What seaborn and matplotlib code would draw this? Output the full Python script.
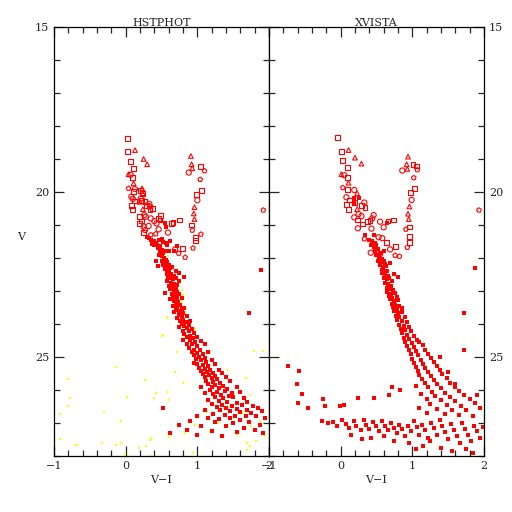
import numpy as np
import pandas as pd
import matplotlib
matplotlib.use("Agg")
import matplotlib.pyplot as plt
import seaborn as sns
from matplotlib.ticker import MultipleLocator

# ---- data: (V-I, V, marker) ----
hst_open = [
    (0.03,18.37,'s'),(0.03,18.78,'s'),(0.07,19.08,'s'),(0.11,19.28,'s'),(0.10,19.57,'s'),(0.11,19.99,'s'),
    (0.21,19.96,'s'),(0.24,20.04,'s'),(0.12,20.27,'s'),(0.22,20.25,'s'),(0.08,20.41,'s'),(0.10,20.52,'s'),
    (0.29,20.42,'s'),(0.37,20.49,'s'),(0.34,20.52,'s'),(0.19,20.75,'s'),(0.19,20.95,'s'),(0.22,20.88,'s'),
    (0.48,20.85,'s'),(0.46,20.80,'s'),(0.49,20.70,'s'),(0.64,20.95,'s'),(0.66,20.92,'s'),(0.75,20.85,'s'),
    (0.25,21.22,'s'),(0.79,21.70,'s'),(1.04,19.23,'s'),(0.99,20.07,'s'),(1.06,19.95,'s'),(0.92,21.00,'s'),
    (0.97,21.37,'s'),(0.97,21.48,'s'),(0.27,20.30,'s'),
    (0.13,18.73,'^'),(0.25,19.00,'^'),(0.30,19.16,'^'),(0.04,19.46,'^'),(0.11,19.74,'^'),(0.23,19.89,'^'),
    (0.24,20.04,'^'),(0.24,20.52,'^'),(0.91,18.91,'^'),(0.92,19.16,'^'),(0.93,19.28,'^'),(0.96,20.46,'^'),
    (0.95,20.65,'^'),(0.96,20.82,'^'),(0.20,20.30,'^'),
    (0.07,19.48,'o'),(0.13,19.91,'o'),(0.08,20.14,'o'),(0.10,20.21,'o'),(0.21,20.20,'o'),(0.33,20.36,'o'),
    (0.34,20.44,'o'),(0.26,20.70,'o'),(0.28,20.75,'o'),(0.35,20.80,'o'),(0.40,20.88,'o'),(0.43,20.95,'o'),
    (0.25,21.05,'o'),(0.32,21.03,'o'),(0.27,21.15,'o'),(0.46,21.13,'o'),(0.59,21.23,'o'),(0.69,21.74,'o'),
    (0.88,19.41,'o'),(1.00,20.25,'o'),
    (0.04,19.89,'p'),(1.10,19.36,'p'),(1.04,19.62,'p'),(0.93,21.16,'p'),(1.05,21.28,'p'),(0.94,21.70,'p'),
    (1.92,20.55,'p'),(0.35,21.30,'p'),(0.42,21.27,'p'),(0.83,21.98,'p'),(0.74,21.86,'p'),
]
xv_open = [
    (-0.04,18.35,'s'),(0.01,18.78,'s'),(0.03,19.05,'s'),(0.10,19.25,'s'),(0.09,19.57,'s'),(0.10,19.92,'s'),
    (0.12,20.24,'s'),(0.08,20.39,'s'),(0.29,20.41,'s'),(0.34,20.46,'s'),(0.11,20.52,'s'),(0.24,20.85,'s'),
    (0.37,20.90,'s'),(0.41,20.87,'s'),(0.66,20.88,'s'),(0.74,20.85,'s'),(0.30,20.97,'s'),(0.64,21.52,'s'),
    (0.76,21.65,'s'),(1.01,19.17,'s'),(1.06,19.21,'s'),(1.03,19.90,'s'),(0.97,20.02,'s'),(0.96,21.06,'s'),
    (0.96,21.34,'s'),(0.96,21.52,'s'),(0.19,20.32,'s'),
    (0.11,18.73,'^'),(0.20,18.96,'^'),(0.29,19.14,'^'),(0.01,19.46,'^'),(0.11,19.72,'^'),(0.23,20.04,'^'),
    (0.23,20.52,'^'),(0.94,18.93,'^'),(0.92,19.16,'^'),(0.93,19.30,'^'),(0.96,20.44,'^'),(0.94,20.66,'^'),
    (0.95,20.82,'^'),
    (0.05,19.49,'o'),(0.19,19.94,'o'),(0.08,20.16,'o'),(0.33,20.32,'o'),(0.25,20.67,'o'),(0.29,20.73,'o'),
    (0.19,20.77,'o'),(0.46,20.70,'o'),(0.44,20.80,'o'),(0.55,20.90,'o'),(0.60,21.07,'o'),(0.43,21.11,'o'),
    (0.24,21.10,'o'),(0.53,21.37,'o'),(0.58,21.40,'o'),(0.69,21.74,'o'),(0.42,21.84,'o'),(0.55,21.88,'o'),
    (0.86,19.35,'o'),(0.99,20.24,'o'),
    (0.03,19.87,'p'),(1.07,19.33,'p'),(1.02,19.57,'p'),(0.91,21.13,'p'),(0.93,21.68,'p'),(1.93,20.55,'p'),
    (0.76,21.92,'p'),(0.82,21.95,'p'),(0.33,21.42,'p'),
]

hst_red = [
    (0.55,20.95),(0.56,21.05),(0.30,21.35),(0.33,21.40),(0.36,21.45),(0.38,21.50),(0.40,21.48),(0.42,21.55),
    (0.37,21.58),(0.44,21.60),(0.40,21.62),(0.46,21.45),(0.50,21.42),(0.52,21.52),(0.48,21.65),(0.56,21.55),
    (0.62,21.50),(0.58,21.62),(0.45,21.70),(0.50,21.75),(0.48,21.82),(0.52,21.85),(0.55,21.80),(0.46,21.90),
    (0.60,21.78),(0.68,21.80),(0.72,21.65),(0.42,22.10),(0.50,21.95),(0.53,22.00),(0.56,22.05),(0.50,22.10),
    (0.54,22.15),(0.58,22.12),(0.52,22.20),(0.56,22.25),(0.60,22.22),(0.55,22.32),(0.58,22.35),(0.62,22.30),
    (0.65,22.28),(0.70,22.40),(0.75,22.45),(0.60,22.42),(0.57,22.48),(0.63,22.50),(0.67,22.55),(0.59,22.58),
    (0.62,22.62),(0.66,22.65),(0.70,22.60),(0.74,22.70),(0.58,22.70),(0.63,22.75),(0.68,22.78),(0.72,22.82),
    (0.60,22.85),(0.65,22.88),(0.70,22.92),(0.62,22.95),(0.67,23.00),(0.72,23.02),(0.64,23.08),(0.69,23.12),
    (0.75,23.10),(0.55,23.05),(0.66,23.18),(0.71,23.22),(0.78,23.20),(0.62,23.25),(0.68,23.30),(0.73,23.32),
    (0.70,23.40),(0.76,23.42),(0.66,23.45),(0.72,23.50),(0.78,23.55),(0.82,23.52),(0.70,23.58),(0.75,23.62),
    (0.68,23.65),(0.80,23.68),(0.74,23.72),(0.78,23.78),(0.85,23.75),(0.72,23.82),(0.80,23.88),(0.76,23.92),
    (0.84,23.95),(0.90,23.90),(0.78,24.00),(0.82,24.05),(0.88,24.02),(0.75,24.10),(0.85,24.12),(0.92,24.15),
    (0.80,24.20),(0.88,24.22),(0.95,24.28),(0.82,24.30),(0.90,24.35),(0.86,24.40),(0.94,24.42),(1.00,24.38),
    (0.80,24.50),(0.90,24.50),(0.97,24.55),(1.05,24.52),(0.85,24.60),(0.93,24.62),(1.00,24.68),(1.10,24.62),
    (0.88,24.72),(0.96,24.78),(1.04,24.80),(0.92,24.85),(1.00,24.88),(1.08,24.92),(1.15,24.85),(0.95,24.95),
    (1.02,25.00),(0.98,25.05),(1.10,25.02),(1.05,25.10),(1.12,25.15),(1.20,25.08),(0.96,25.18),(1.00,25.22),
    (1.08,25.25),(1.15,25.28),(1.25,25.20),(1.02,25.32),(1.10,25.35),(1.18,25.38),(1.05,25.42),(1.14,25.45),
    (1.22,25.48),(1.30,25.40),(1.08,25.52),(1.16,25.55),(1.25,25.58),(1.35,25.50),(1.10,25.62),(1.20,25.65),
    (1.28,25.68),(1.40,25.62),(1.12,25.72),(1.22,25.75),(1.32,25.78),(1.45,25.72),(1.15,25.82),(1.25,25.85),
    (1.36,25.88),(1.05,25.90),(1.20,25.92),(1.30,25.95),(1.42,25.98),(1.55,25.92),(1.18,26.00),(1.28,26.05),
    (1.38,26.02),(1.48,26.08),(1.60,26.05),(1.10,26.10),(1.22,26.12),(1.33,26.15),(1.44,26.18),(1.25,26.22),
    (1.36,26.25),(1.50,26.22),(1.65,26.25),(1.15,26.30),(1.30,26.32),(1.42,26.35),(1.55,26.38),(1.70,26.35),
    (1.20,26.42),(1.35,26.45),(1.48,26.48),(1.62,26.45),(1.78,26.50),(1.28,26.52),(1.40,26.55),(1.55,26.58),
    (1.70,26.60),(1.85,26.55),(1.10,26.60),(1.32,26.62),(1.45,26.65),(1.60,26.68),(1.75,26.70),(1.90,26.65),
    (1.22,26.72),(1.38,26.75),(1.52,26.78),(1.68,26.80),(1.82,26.78),(1.00,26.80),(1.15,26.85),(1.30,26.88),
    (1.45,26.85),(1.60,26.90),(1.95,26.85),(0.90,26.95),(1.25,26.98),(1.50,27.00),(1.72,26.98),(1.88,27.05),
    (1.05,27.10),(1.40,27.10),(1.65,27.15),(0.75,27.05),(0.85,27.20),(1.20,27.25),(1.55,27.28),(1.80,27.22),
    (0.62,27.30),(1.00,27.35),(1.35,27.40),(1.92,27.30),(1.72,23.67),(1.89,22.35),(0.45,22.24),(0.82,22.57),
    (0.52,26.55),
]
hst_yellow = [
    (-0.80,25.67),(-0.77,26.25),(-0.80,26.50),(-0.92,26.74),(-0.30,26.68),(-0.06,26.93),(0.02,26.20),
    (-0.13,25.31),(0.27,25.70),(-0.92,27.49),(-0.69,27.67),(-0.33,27.62),(-0.14,27.67),(-0.07,27.62),
    (-0.01,27.94),(0.19,27.77),(0.34,27.52),(0.36,27.46),(0.29,27.69),(0.34,28.00),(0.43,26.10),(0.57,26.05),
    (0.39,26.25),(0.60,26.30),(0.52,24.33),(0.58,23.80),(0.71,24.84),(0.69,25.45),(0.60,27.41),(0.83,27.31),
    (0.80,25.80),(0.94,27.92),(0.97,27.06),(1.13,26.66),(1.18,27.26),(1.29,27.01),(1.43,25.39),(1.46,26.50),
    (1.68,25.65),(1.73,26.15),(1.79,24.81),(1.92,24.82),(1.64,26.71),(1.69,27.62),(1.73,27.69),(1.69,27.82),
    (0.61,22.42),(0.75,22.77),(0.78,22.97),(0.80,23.12),(0.78,23.32),(0.57,23.83),(0.83,23.68),(0.89,24.01),
    (0.97,24.16),(0.51,24.36),(0.80,24.43),(1.04,24.79),(1.18,24.84),(0.59,21.93),(-0.68,27.67),
    (1.75,27.10),(1.88,26.95),(1.95,27.40),(1.82,27.55),(1.55,27.35),
]
xv_red = [
    (0.25,20.17),(0.18,20.19),(0.19,20.32),(0.64,20.95),(0.34,21.30),(0.46,21.30),(0.40,21.45),(0.44,21.50),
    (0.48,21.55),(0.42,21.60),(0.50,21.62),(0.46,21.68),(0.52,21.72),(0.48,21.80),(0.55,21.85),(0.60,21.78),
    (0.50,21.92),(0.54,21.98),(0.58,22.02),(0.52,22.08),(0.56,22.12),(0.60,22.10),(0.62,22.18),(0.55,22.22),
    (0.59,22.28),(0.63,22.25),(0.69,22.16),(0.57,22.35),(0.61,22.38),(0.65,22.40),(0.74,22.48),(0.80,22.59),
    (0.58,22.45),(0.62,22.50),(0.66,22.55),(0.60,22.60),(0.64,22.65),(0.68,22.62),(0.72,22.70),(0.62,22.75),
    (0.66,22.80),(0.70,22.85),(0.64,22.90),(0.68,22.95),(0.73,22.98),(0.65,23.02),(0.70,23.08),(0.76,23.05),
    (0.67,23.15),(0.72,23.20),(0.78,23.18),(0.69,23.25),(0.74,23.30),(0.80,23.28),(0.71,23.38),(0.76,23.42),
    (0.82,23.45),(0.73,23.50),(0.78,23.55),(0.85,23.52),(0.75,23.62),(0.80,23.68),(0.86,23.65),(0.77,23.75),
    (0.82,23.80),(0.90,23.78),(0.79,23.88),(0.85,23.92),(0.92,23.95),(0.81,24.02),(0.88,24.05),(0.95,24.08),
    (0.84,24.15),(0.90,24.18),(0.98,24.22),(0.86,24.28),(0.93,24.32),(1.02,24.35),(0.88,24.42),(0.96,24.45),
    (1.06,24.48),(0.90,24.55),(0.99,24.58),(1.10,24.55),(0.92,24.68),(1.02,24.70),(1.15,24.65),(0.95,24.80),
    (1.05,24.82),(1.18,24.78),(0.98,24.92),(1.08,24.95),(1.22,24.90),(1.00,25.05),(1.12,25.08),(1.26,25.02),
    (1.03,25.18),(1.15,25.20),(1.30,25.15),(1.05,25.30),(1.18,25.32),(1.34,25.28),(1.08,25.42),(1.22,25.45),
    (1.38,25.40),(1.10,25.55),(1.26,25.58),(1.42,25.52),(1.14,25.68),(1.30,25.70),(1.48,25.65),(1.18,25.80),
    (1.34,25.82),(1.52,25.78),(1.05,25.88),(1.22,25.92),(1.40,25.95),(1.60,25.90),(1.28,26.05),(1.45,26.08),
    (1.65,26.02),(1.12,26.12),(1.32,26.18),(1.52,26.20),(1.72,26.15),(1.20,26.28),(1.40,26.30),(1.60,26.32),
    (1.80,26.28),(1.25,26.42),(1.48,26.45),(1.68,26.48),(1.88,26.40),(1.10,26.55),(1.35,26.58),(1.55,26.60),
    (1.75,26.62),(1.95,26.55),(1.20,26.70),(1.45,26.72),(1.65,26.75),(1.85,26.78),
    (-0.26,26.95),(-0.18,27.00),(-0.10,26.98),(-0.05,27.10),(0.02,26.90),(0.08,27.02),(0.12,27.15),(0.18,26.95),
    (0.22,27.08),(0.28,27.20),(0.32,26.92),(0.36,27.05),(0.40,27.18),(0.45,26.98),(0.50,27.10),(0.54,27.25),
    (0.58,26.95),(0.62,27.08),(0.66,27.22),(0.70,27.00),(0.74,27.15),(0.78,27.30),(0.82,27.05),(0.86,27.18),
    (0.90,27.40),(0.94,27.10),(0.98,27.25),(1.02,26.95),(1.06,27.12),(1.10,27.35),(1.14,27.05),(1.18,27.20),
    (1.22,27.45),(1.26,27.00),(1.30,27.15),(1.34,27.35),(1.38,26.92),(1.42,27.10),(1.46,27.28),(1.50,27.50),
    (1.54,27.02),(1.58,27.20),(1.62,27.40),(1.66,27.60),(1.70,27.00),(1.74,27.18),(1.78,27.35),(1.82,27.55),
    (1.86,27.08),(1.90,27.25),(1.94,27.45),(1.98,27.12),(0.15,27.35),(0.42,27.45),(0.60,27.40),(0.95,27.60),
    (1.15,27.70),(1.40,27.75),(1.55,27.85),(1.75,27.80),(1.85,27.92),(1.25,27.55),(1.05,27.80),(0.30,27.50),
    (0.75,27.55),
    (-0.73,25.27),(-0.58,25.41),(-0.61,25.83),(-0.54,26.12),(-0.59,26.38),(-0.46,26.55),(-0.24,26.27),
    (-0.22,26.48),(-0.01,26.50),(0.04,26.45),(0.24,26.25),(0.46,26.25),(0.67,26.15),(0.72,25.90),(0.83,26.00),
    (1.39,24.99),(1.50,25.45),(1.60,25.82),(1.72,23.68),(1.72,24.79),(1.90,26.15),(1.88,22.29),
]

titles = ["HSTPHOT", "XVISTA"]

sns.set_style("white")
plt.rcParams['font.family'] = ['DejaVu Serif']

fig = plt.figure(figsize=(5.12, 5.12), dpi=100)
axL = fig.add_axes([54/512, 1-456/512, 215/512, 429/512])
axR = fig.add_axes([269/512, 1-456/512, 215/512, 429/512])

markers = {'s': 's', '^': '^', 'o': 'o', 'p': 'p'}
sizes = {'s': 12, '^': 11, 'o': 14, 'p': 12}

def draw(ax, opened, red, yellow=None):
    if yellow is not None:
        yd = pd.DataFrame(yellow, columns=["VI", "V"])
        sns.scatterplot(data=yd, x="VI", y="V", marker="s", s=4, color="#ffff00", linewidth=0, ax=ax, legend=False)
    rd = pd.DataFrame(red, columns=["VI", "V"])
    sns.scatterplot(data=rd, x="VI", y="V", marker="s", s=7, color="red", linewidth=0, ax=ax, legend=False)
    od = pd.DataFrame(opened, columns=["VI", "V", "m"])
    for m, g in od.groupby("m"):
        sns.scatterplot(data=g, x="VI", y="V", marker=markers[m], s=sizes[m], color="red",
                        facecolors="none", edgecolor="red", linewidth=0.8, ax=ax, legend=False)

draw(axL, hst_open, hst_red, hst_yellow)
draw(axR, xv_open, xv_red)

for ax, t in zip([axL, axR], titles):
    ax.set_xlim(-1, 2)
    ax.set_ylim(28, 15)
    ax.xaxis.set_major_locator(MultipleLocator(1))
    ax.xaxis.set_minor_locator(MultipleLocator(0.2))
    ax.yaxis.set_major_locator(MultipleLocator(5))
    ax.yaxis.set_minor_locator(MultipleLocator(1))
    ax.tick_params(which="both", direction="in", top=True, right=True, bottom=True, left=True,
                   width=0.9, labelsize=8)
    ax.tick_params(which="major", length=7)
    ax.tick_params(which="minor", length=4)
    for sp in ax.spines.values():
        sp.set_linewidth(0.9)
        sp.set_color("black")
    ax.set_xlabel("V\u2212I", fontsize=8, labelpad=3)
    ax.set_ylabel("")
    ax.text(0.5, 0.998, t, transform=ax.transAxes, ha="center", va="bottom", fontsize=8)

axL.set_ylabel("V", fontsize=8, rotation=0, labelpad=10)
axR.yaxis.set_label_position("right")
axR.tick_params(labelleft=False, labelright=True)

fig.savefig("out.png", dpi=100, facecolor="white")
